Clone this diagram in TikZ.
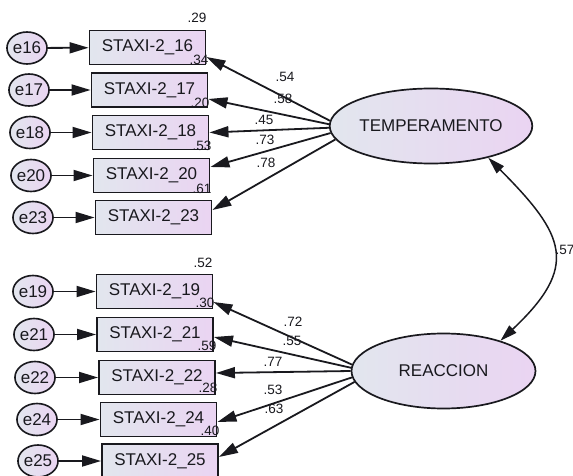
\documentclass[tikz,border=0pt]{standalone}
\usepackage{fontspec}
\setmainfont{Liberation Sans}
\usetikzlibrary{arrows.meta,shapes.geometric}
\definecolor{fillL}{RGB}{226,230,238}
\definecolor{fillR}{RGB}{234,212,242}
\definecolor{ink}{RGB}{25,25,30}
\begin{document}
\begin{tikzpicture}[x=1pt,y=-1pt,
  tip/.style={-{Triangle[length=19pt,width=11pt]}},
  errc/.style={ellipse,draw=ink,line width=1.6pt,minimum width=36pt,minimum height=32pt,inner sep=0pt,
    left color=fillL,right color=fillR,font=\fontsize{17}{19}\selectfont,text=ink},
  obs/.style={rectangle,draw=ink,line width=1.9pt,minimum width=116pt,minimum height=34pt,inner sep=0pt,
    left color=fillL,right color=fillR,font=\fontsize{17}{19}\selectfont,text=ink},
  lat/.style={ellipse,draw=ink,line width=1.7pt,minimum width=184pt,minimum height=75pt,inner sep=0pt,
    left color=fillL,right color=fillR,font=\fontsize{17}{19}\selectfont,text=ink},
  num/.style={font=\fontsize{13.5}{15}\selectfont,text=ink,inner sep=0pt},
  conn/.style={draw=ink,line width=1.8pt}]
\useasboundingbox (0,0) rectangle (573,476);
\fill[white] (0,0) rectangle (573,476);

% latent factors
\node[lat] (T) at (431,126) {TEMPERAMENTO};
\node[lat] (R) at (443.5,371) {REACCION};

% observed indicators, first factor
\node[obs] (b16) at (147.5,47.5) {STAXI-2\_16};
\node[obs] (b17) at (149.5,90) {STAXI-2\_17};
\node[obs] (b18) at (150.5,132.5) {STAXI-2\_18};
\node[obs] (b20) at (151.5,175.5) {STAXI-2\_20};
\node[obs] (b23) at (153.5,217.5) {STAXI-2\_23};

% observed indicators, second factor
\node[obs] (b19) at (154.5,291.5) {STAXI-2\_19};
\node[obs] (b21) at (155,334.5) {STAXI-2\_21};
\node[obs] (b22) at (157,377.5) {STAXI-2\_22};
\node[obs] (b24) at (158.5,419.5) {STAXI-2\_24};
\node[obs] (b25) at (160,461) {STAXI-2\_25};

% error terms
\node[errc] (e16) at (27,48) {e16};
\node[errc] (e17) at (29,90) {e17};
\node[errc] (e18) at (30,132.5) {e18};
\node[errc] (e20) at (31,175.5) {e20};
\node[errc] (e23) at (33,217.5) {e23};
\node[errc] (e19) at (33,291.5) {e19};
\node[errc] (e21) at (34,334.5) {e21};
\node[errc] (e22) at (35,377.5) {e22};
\node[errc] (e24) at (37,419.5) {e24};
\node[errc] (e25) at (38,461) {e25};

% error paths
\foreach \n in {16,17,18,20,23,19,21,22,24,25}
  \draw[conn,tip] (e\n) -- (b\n);

% loadings
\draw[conn,tip] (T.177) -- ([yshift=-9.5pt]b16.east);
\draw[conn,tip] (T.179) -- ([yshift=-9pt]b17.east);
\draw[conn,tip] (T.181) -- ([yshift=0pt]b18.east);
\draw[conn,tip] (T.184) -- ([yshift=8.5pt]b20.east);
\draw[conn,tip] (T.188) -- ([yshift=7.5pt]b23.east);

\draw[conn,tip] (R.176) -- ([yshift=-10.5pt]b19.east);
\draw[conn,tip] (R.178) -- ([yshift=-2.5pt]b21.east);
\draw[conn,tip] (R.180.5) -- ([yshift=4.5pt]b22.east);
\draw[conn,tip] (R.184) -- ([yshift=-2.5pt]b24.east);
\draw[conn,tip] (R.187) -- ([yshift=4pt]b25.east);

% factor covariance
\draw[draw=ink,line width=1.5pt,{Triangle[length=17pt,width=10pt]}-{Triangle[length=17pt,width=10pt]}]
  (T.-29) .. controls (565,235) and (580,266) .. (R.28);

% loading estimates
\node[num] (l16) at (285,77) {.54};
\node[num] (l17) at (283,99) {.58};
\node[num] (l18) at (264,120) {.45};
\node[num] (l20) at (265,140) {.73};
\node[num] (l23) at (266,163) {.78};
\node[num] (l19) at (293,322) {.72};
\node[num] (l21) at (292,341) {.55};
\node[num] (l22) at (273,362) {.77};
\node[num] (l24) at (273,390) {.53};
\node[num] (l25) at (274,409) {.63};
\node[num] (cov) at (565,250) {.57};

% squared multiple correlations
\node[num] (r16) at (197,18) {.29};
\node[num] (r17) at (199,60) {.34};
\node[num] (r18) at (200,103) {.20};
\node[num] (r20) at (202,146) {.53};
\node[num] (r23) at (202,189) {.61};
\node[num] (r19) at (203,263) {.52};
\node[num] (r21) at (205,303) {.30};
\node[num] (r22) at (207,346) {.59};
\node[num] (r24) at (208,388) {.28};
\node[num] (r25) at (210,431) {.40};
\end{tikzpicture}
\end{document}
